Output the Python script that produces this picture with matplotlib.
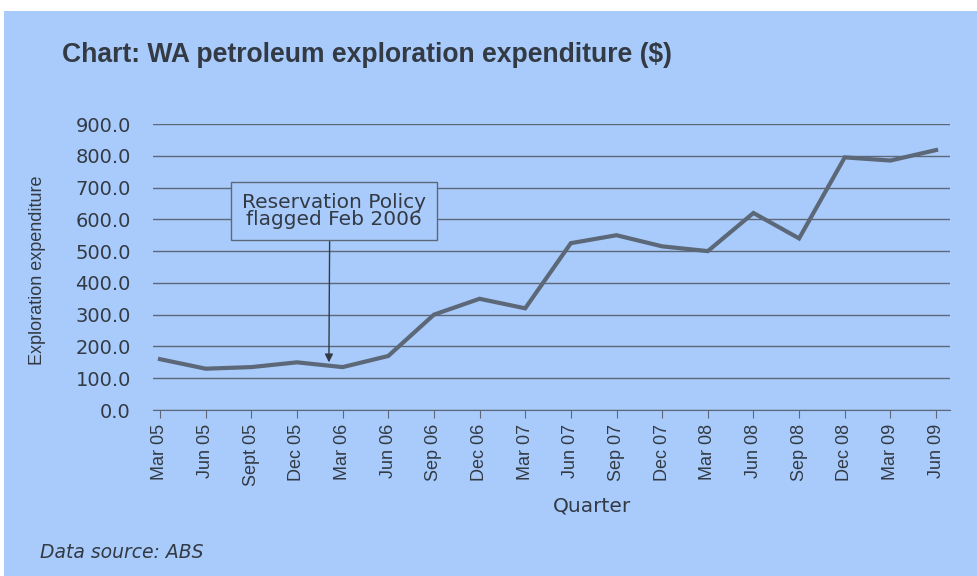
import matplotlib.pyplot as plt
from matplotlib.patches import Rectangle

plt.rcParams["font.family"] = ["DejaVu Sans"]

quarters = ["Mar 05", "Jun 05", "Sept 05", "Dec 05", "Mar 06", "Jun 06",
            "Sep 06", "Dec 06", "Mar 07", "Jun 07", "Sep 07", "Dec 07",
            "Mar 08", "Jun 08", "Sep 08", "Dec 08", "Mar 09", "Jun 09"]
expenditure = [160, 130, 135, 150, 135, 170, 300, 350, 320, 525, 550, 515,
               500, 620, 540, 795, 785, 818]
y_ticks = [0, 100, 200, 300, 400, 500, 600, 700, 800, 900]

bg = "#a8cbfb"
ink = "#333a44"
grey = "#5c6878"
narrow = ["Liberation Sans", "DejaVu Sans"]

fig = plt.figure(figsize=(9.77, 5.76), dpi=100, facecolor="white")
fig.patches.append(Rectangle((4 / 977, 0), 1, 1 - 11 / 576, transform=fig.transFigure,
                             facecolor=bg, edgecolor="none", zorder=-10))

ax = fig.add_axes([153 / 977, 1 - 410 / 576, (950 - 153) / 977, (410 - 124) / 576])
ax.set_facecolor(bg)
ax.patch.set_alpha(0)

x = list(range(len(quarters)))
ax.plot(x, expenditure, color=grey, lw=3, solid_joinstyle="miter", zorder=3)

ax.set_ylim(0, 900)
ax.set_xlim(-(160 - 153) / 45.65, (950 - 160) / 45.65)
ax.set_yticks(y_ticks)
ax.set_yticklabels([f"{v:.1f}" for v in y_ticks])
ax.set_xticks(x)
ax.set_xticklabels(quarters, rotation=90, family=narrow)
ax.grid(axis="y", color=grey, lw=1)
ax.set_axisbelow(True)
for s in ["top", "right", "left"]:
    ax.spines[s].set_visible(False)
ax.spines["bottom"].set_color(grey)
ax.tick_params(axis="y", length=0, pad=16, labelsize=14, labelcolor=ink)
ax.tick_params(axis="x", length=6, color=grey, pad=4, labelsize=13, labelcolor=ink)

ax.set_ylabel("Exploration expenditure", fontsize=13, color=ink, va="center", family=narrow)
ax.yaxis.set_label_coords(-0.1443, 0.49)
ax.set_xlabel("Quarter", fontsize=14.5, color=ink, va="center")
ax.xaxis.set_label_coords(0.551, -0.336)

ax.annotate("Reservation Policy\nflagged Feb 2006", xy=(3.70, 150), xytext=(3.81, 626),
            ha="center", va="center", fontsize=14.5, color=ink, linespacing=0.82,
            bbox=dict(boxstyle="square,pad=0.55", fc=bg, ec=grey, lw=1),
            arrowprops=dict(arrowstyle="-|>", color=ink, lw=1, mutation_scale=12,
                            relpos=(0.477, 0), shrinkA=0, shrinkB=0))

fig.text(62 / 977, 1 - 55 / 576, "Chart: WA petroleum exploration expenditure ($)",
         fontsize=19.1, fontweight="bold", color=ink, va="center", family=narrow)
fig.text(40 / 977, 1 - 552 / 576, "Data source: ABS", fontsize=13.5, style="italic",
         color=ink, va="center")

fig.savefig("out.png", dpi=100, facecolor="white")
